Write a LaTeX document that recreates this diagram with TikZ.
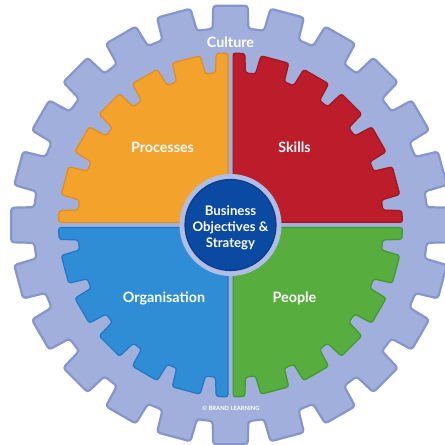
\documentclass[tikz,border=0pt]{standalone}
\usepackage{fontspec}
\setmainfont{Lato}

% palette
\definecolor{lav}{RGB}{161,175,220}
\definecolor{lavD}{RGB}{134,150,204}
\definecolor{lavL}{RGB}{176,189,229}
\definecolor{qorange}{RGB}{243,163,43}
\definecolor{qorangeD}{RGB}{226,140,28}
\definecolor{qred}{RGB}{189,28,43}
\definecolor{qredD}{RGB}{163,20,31}
\definecolor{qgreen}{RGB}{87,173,61}
\definecolor{qgreenD}{RGB}{62,154,43}
\definecolor{qblue}{RGB}{46,141,213}
\definecolor{qblueD}{RGB}{30,119,196}
\definecolor{navy}{RGB}{11,74,162}
\definecolor{navyD}{RGB}{8,60,140}

% gear geometry (radii in pt, half-widths of teeth in degrees)
\def\outerTip{220}
\def\outerRoot{197}
\def\outerTipHalf{4.5}
\def\outerRootHalf{5.2}
\def\innerTip{172}
\def\innerRoot{153}
\def\innerTipHalf{4.8}
\def\innerRootHalf{5.6}
\def\qgap{2.6}

% one quarter of the inner gear, spanning 0..90 degrees
\newcommand\gearquarter{%
  (\qgap,\qgap) -- (\innerTip,\qgap) -- (\innerTipHalf:\innerTip) -- (\innerRootHalf:\innerRoot)
  \foreach \c in {15,30,45,60,75}{
    -- ({\c-\innerRootHalf}:\innerRoot) -- ({\c-\innerTipHalf}:\innerTip)
    -- ({\c+\innerTipHalf}:\innerTip) -- ({\c+\innerRootHalf}:\innerRoot)}
  -- ({90-\innerRootHalf}:\innerRoot) -- ({90-\innerTipHalf}:\innerTip)
  -- (\qgap,\innerTip) -- cycle}

\tikzset{
  quarter/.style={rounded corners=2.5pt, line width=1.2pt},
  label/.style={text=white, font=\bfseries\fontsize{14.3}{16}\selectfont, inner sep=0pt, anchor=base},
}

\begin{document}
\begin{tikzpicture}[x=1pt,y=1pt]
\useasboundingbox (0,0) rectangle (445,445);
\clip (0,0) rectangle (445,445);
\fill[white] (0,0) rectangle (445,445);

\begin{scope}[shift={(230.5,220)}]
  % outer gear
  \filldraw[fill=lav, draw=lavD, line width=2.2pt, rounded corners=3pt]
    (82.5:\outerRoot)
    \foreach \i in {0,...,23}{
      -- ({90+15*\i-\outerRootHalf}:\outerRoot) -- ({90+15*\i-\outerTipHalf}:\outerTip)
      -- ({90+15*\i+\outerTipHalf}:\outerTip) -- ({90+15*\i+\outerRootHalf}:\outerRoot)}
    -- cycle;

  % four coloured quarters of the inner gear
  \filldraw[quarter, fill=qred, draw=qredD] \gearquarter;
  \begin{scope}[rotate=90]
    \filldraw[quarter, fill=qorange, draw=qorangeD] \gearquarter;
  \end{scope}
  \begin{scope}[rotate=180]
    \filldraw[quarter, fill=qblue, draw=qblueD] \gearquarter;
  \end{scope}
  \begin{scope}[rotate=270]
    \filldraw[quarter, fill=qgreen, draw=qgreenD] \gearquarter;
  \end{scope}

  % central hub
  \fill[lavL] (0,0) circle (51);
  \filldraw[fill=navy, draw=navyD, line width=1.2pt] (0,0) circle (45.5);
\end{scope}

\node[label] (culture) at (230.5,397) {Culture};
\node[label] (processes) at (162.5,292) {Processes};
\node[label] (skills) at (294.5,292) {Skills};
\node[label] (organisation) at (164,142.3) {Organisation};
\node[label] (people) at (294.5,142.3) {People};
\node[text=white, font=\bfseries\fontsize{13.2}{16}\selectfont, align=center, inner sep=0pt]
  (hub) at (230.5,217.5) {Business\\Objectives \&\\Strategy};
\node[text=white, font=\bfseries\fontsize{5.8}{6}\selectfont, inner sep=0pt]
  (copyright) at (231,37) {© BRAND LEARNING};
\end{tikzpicture}
\end{document}
